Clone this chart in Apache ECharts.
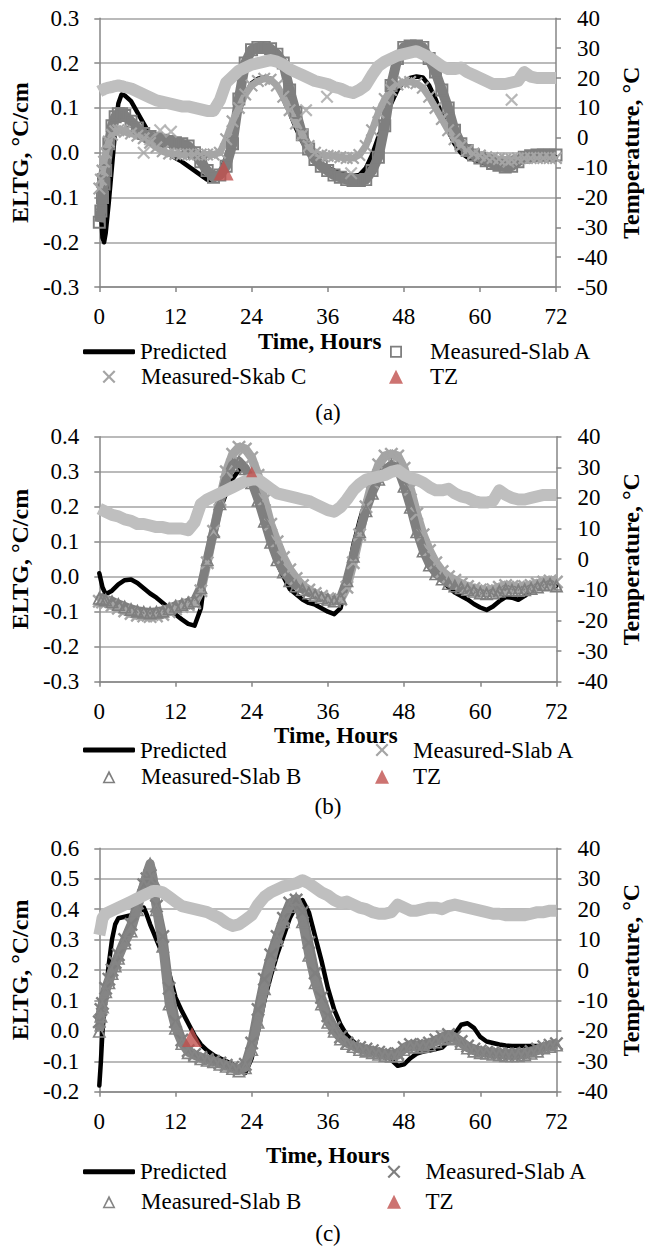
<!DOCTYPE html>
<html><head><meta charset="utf-8">
<script src="https://cdn.jsdelivr.net/npm/echarts/dist/echarts.min.js"></script>
<style>html,body{margin:0;padding:0;background:#fff}#c{width:651px;height:1247px}</style>
</head><body><div id="c"></div>
<script>
// ---------- Panel (a) ----------
const hoursA = [0,0.25,0.5,0.75,1,1.5,2,2.5,3,3.5,4,5,6,7,8,9,10,11,12,13,14,15,16,17,18,19,20,21,22,23,24,25,26,27,28,29,30,31,32,33,34,35,36,37,38,39,40,41,42,43,44,45,46,47,48,49,50,51,52,53,54,55,56,57,58,59,60,61,62,63,64,65,66,67,68,69,70,71,72];
const predA = [-0.05,-0.13,-0.19,-0.2,-0.18,-0.11,-0.03,0.05,0.11,0.13,0.128,0.115,0.09,0.065,0.04,0.02,0.008,-0.003,-0.012,-0.02,-0.03,-0.04,-0.05,-0.06,-0.062,-0.045,-0.01,0.04,0.09,0.13,0.155,0.165,0.168,0.165,0.15,0.12,0.09,0.055,0.025,0.0,-0.015,-0.025,-0.033,-0.04,-0.046,-0.05,-0.052,-0.05,-0.035,-0.005,0.035,0.075,0.11,0.14,0.158,0.167,0.17,0.168,0.15,0.12,0.085,0.05,0.02,0.0,-0.01,-0.015,-0.02,-0.025,-0.028,-0.03,-0.03,-0.025,-0.018,-0.012,-0.01,-0.01,-0.01,-0.01,-0.01];
const slabA_A = [-0.155,-0.13,-0.1,-0.07,-0.04,0.02,0.06,0.08,0.087,0.087,0.083,0.07,0.055,0.043,0.036,0.031,0.028,0.025,0.022,0.02,0.015,0.0,-0.02,-0.04,-0.055,-0.05,-0.03,0.02,0.12,0.2,0.23,0.235,0.235,0.232,0.22,0.2,0.14,0.09,0.04,0.008,-0.015,-0.03,-0.04,-0.05,-0.055,-0.06,-0.062,-0.062,-0.06,-0.04,-0.01,0.06,0.15,0.21,0.235,0.238,0.238,0.235,0.21,0.18,0.14,0.1,0.05,0.02,0.005,-0.005,-0.012,-0.018,-0.024,-0.028,-0.032,-0.03,-0.02,-0.01,-0.007,-0.005,-0.005,-0.005,-0.005];
const skabC_A = [-0.08,-0.06,-0.04,-0.02,0.0,0.025,0.04,0.048,0.05,0.05,0.047,0.043,0.038,0.032,0.022,0.012,0.003,-0.002,-0.003,-0.004,-0.004,-0.004,-0.004,-0.004,-0.004,0.0,0.03,0.07,0.1,0.13,0.15,0.16,0.165,0.163,0.15,0.125,0.095,0.065,0.04,0.015,0.0,-0.005,-0.007,-0.008,-0.01,-0.012,-0.012,-0.005,0.015,0.05,0.09,0.12,0.14,0.152,0.157,0.158,0.155,0.145,0.125,0.1,0.075,0.05,0.03,0.015,0.005,-0.002,-0.006,-0.01,-0.012,-0.014,-0.015,-0.015,-0.013,-0.012,-0.012,-0.012,-0.012,-0.012,-0.012];
const skabCOutT = [7,8,9.6,11.3,32.6,35.9,39.7,64.5,65];
const skabCOutV = [0.0,0.03,0.05,0.047,0.095,0.125,-0.046,-0.02,0.118];
const tempA = [15.5,15.8,16,16.3,16.5,16.8,17,17.3,17.5,17.3,17,16.5,15.5,14.5,13.5,12.5,12,11.5,11,10.5,10.5,10,9.5,9,9,12.5,18.5,20.5,22.5,23.5,24.5,25,25.5,26,25.5,24.5,23,22,21,20,19,18.5,18,17,16.5,15.5,15,16,17.5,21,24,25.5,26.5,27.5,28,28.5,29,28,27,25.5,24,23,23,23.5,22,21,20,19,18,18,18,18.5,19,22,20.5,20,20,20,20];
const tzA = [[19.6,-0.04]];

// ---------- Panel (b) ----------
const hoursB = [0,0.5,1,2,3,4,5,6,7,8,9,10,11,12,13,14,15,16,17,18,19,20,21,22,23,24,25,26,27,28,29,30,31,32,33,34,35,36,37,38,39,40,41,42,43,44,45,46,47,48,49,50,51,52,53,54,55,56,57,58,59,60,61,62,63,64,65,66,67,68,69,70,71,72];
const predB = [0.01,-0.03,-0.05,-0.04,-0.022,-0.01,-0.008,-0.018,-0.033,-0.048,-0.06,-0.075,-0.09,-0.108,-0.122,-0.135,-0.14,-0.09,0.05,0.12,0.19,0.24,0.28,0.305,0.31,0.28,0.22,0.15,0.09,0.04,0.0,-0.035,-0.05,-0.065,-0.075,-0.08,-0.09,-0.1,-0.107,-0.09,-0.01,0.09,0.16,0.22,0.26,0.29,0.31,0.32,0.3,0.25,0.2,0.14,0.085,0.04,0.01,-0.01,-0.03,-0.045,-0.055,-0.065,-0.078,-0.088,-0.095,-0.085,-0.07,-0.058,-0.06,-0.066,-0.055,-0.04,-0.028,-0.02,-0.022,-0.025];
const slabA_B = [-0.07,-0.072,-0.075,-0.082,-0.09,-0.098,-0.105,-0.11,-0.112,-0.114,-0.112,-0.108,-0.1,-0.092,-0.085,-0.08,-0.075,-0.04,0.04,0.13,0.22,0.3,0.35,0.37,0.365,0.34,0.29,0.22,0.15,0.1,0.055,0.02,-0.005,-0.025,-0.038,-0.048,-0.056,-0.063,-0.068,-0.065,-0.03,0.04,0.12,0.2,0.27,0.32,0.345,0.35,0.345,0.31,0.25,0.18,0.12,0.075,0.04,0.015,0.0,-0.01,-0.02,-0.028,-0.034,-0.038,-0.04,-0.037,-0.03,-0.025,-0.028,-0.03,-0.028,-0.025,-0.02,-0.015,-0.012,-0.015];
const slabB_B = [-0.06,-0.062,-0.065,-0.07,-0.078,-0.085,-0.092,-0.097,-0.1,-0.102,-0.1,-0.097,-0.09,-0.083,-0.078,-0.073,-0.068,-0.03,0.05,0.13,0.21,0.28,0.32,0.33,0.31,0.27,0.22,0.16,0.1,0.05,0.015,-0.01,-0.025,-0.035,-0.045,-0.052,-0.058,-0.063,-0.068,-0.06,-0.01,0.06,0.13,0.19,0.24,0.28,0.305,0.32,0.31,0.26,0.2,0.13,0.075,0.035,0.01,-0.005,-0.018,-0.025,-0.03,-0.035,-0.04,-0.045,-0.047,-0.045,-0.04,-0.035,-0.037,-0.038,-0.036,-0.032,-0.028,-0.022,-0.02,-0.025];
const tempB = [16.5,16,15.5,14.5,14,13,12.5,11.5,11.5,11,10.5,10.5,10,10,10,9.5,12,18,19.5,20.5,21.5,22.5,23.5,24.5,25.5,26,26,24.5,23,21.5,21,20.5,20,19.5,19,18,17,16,15.5,17,19.5,22.5,24.5,26,26.5,27,27.5,28.5,29,27.5,26.5,26,25,23.5,22.5,22.5,23,21.5,20.5,20,19,18.5,18.5,19,22.5,21,20,19.5,19.5,20,20.5,21,21,21];
const tzB = [[24,0.3]];

// ---------- Panel (c) ----------
const hoursC = [0,0.25,0.5,1,1.5,2,2.5,3,4,5,6,7,7.5,8,8.5,9,10,11,12,13,14,15,16,17,18,19,20,21,22,23,24,25,26,27,28,29,30,31,32,33,34,35,36,37,38,39,40,41,42,43,44,45,46,47,48,49,50,51,52,53,54,55,56,57,58,59,60,61,62,63,64,65,66,67,68,69,70,71,72];
const predC = [-0.18,-0.1,0.0,0.12,0.22,0.3,0.35,0.37,0.375,0.38,0.39,0.405,0.38,0.35,0.325,0.3,0.25,0.19,0.11,0.065,0.025,-0.015,-0.045,-0.065,-0.08,-0.09,-0.1,-0.11,-0.125,-0.138,-0.09,0.0,0.1,0.18,0.25,0.31,0.37,0.41,0.43,0.39,0.31,0.23,0.14,0.07,0.02,-0.015,-0.035,-0.05,-0.06,-0.065,-0.07,-0.08,-0.095,-0.115,-0.11,-0.09,-0.075,-0.068,-0.065,-0.06,-0.055,-0.035,-0.01,0.02,0.025,0.01,-0.02,-0.035,-0.04,-0.045,-0.048,-0.05,-0.05,-0.05,-0.05,-0.05,-0.05,-0.045,-0.04];
const slabA_C = [0.03,0.07,0.09,0.14,0.17,0.2,0.225,0.25,0.3,0.35,0.42,0.48,0.5,0.51,0.46,0.41,0.31,0.14,0.03,-0.03,-0.065,-0.078,-0.088,-0.094,-0.1,-0.106,-0.113,-0.12,-0.127,-0.11,-0.04,0.07,0.17,0.25,0.31,0.37,0.42,0.43,0.39,0.29,0.19,0.11,0.05,0.01,-0.02,-0.04,-0.05,-0.055,-0.06,-0.065,-0.07,-0.075,-0.078,-0.075,-0.055,-0.045,-0.048,-0.045,-0.04,-0.03,-0.02,-0.012,-0.02,-0.035,-0.05,-0.06,-0.066,-0.07,-0.072,-0.075,-0.076,-0.077,-0.076,-0.074,-0.068,-0.06,-0.052,-0.047,-0.042];
const slabB_C = [0.0,0.05,0.08,0.13,0.16,0.19,0.215,0.24,0.29,0.33,0.4,0.48,0.52,0.55,0.5,0.4,0.28,0.09,0.01,-0.04,-0.07,-0.08,-0.09,-0.095,-0.1,-0.108,-0.115,-0.122,-0.13,-0.12,-0.06,0.03,0.14,0.22,0.3,0.36,0.41,0.435,0.36,0.25,0.16,0.09,0.03,0.0,-0.025,-0.04,-0.05,-0.06,-0.065,-0.07,-0.075,-0.08,-0.082,-0.08,-0.06,-0.05,-0.052,-0.05,-0.045,-0.035,-0.025,-0.02,-0.025,-0.04,-0.055,-0.065,-0.07,-0.072,-0.075,-0.078,-0.08,-0.08,-0.08,-0.078,-0.072,-0.065,-0.055,-0.05,-0.045];
const tempC = [11.5,14,17,18.5,19,19.5,20,20.5,21.5,22.5,23.5,24.5,25,25.5,26,26,25.5,24,22.5,21,20.5,20,19.5,19,18,17,15.5,14.5,15,16.5,18,21.5,24,25.5,26.5,27.5,28,28.5,29.5,28.5,27,25.5,24.5,23,22,22.5,21.5,20.5,20,19,18.5,18.5,19,21.5,20.5,19.5,19.5,20,20.5,20.5,20,21,21.5,21,20.5,20,19.5,19,18.5,18.5,18,18,18,18,18.5,19,19,19.5,19.5];
const tzC = [[14.6,-0.02]];

const xTicks = [0,12,24,36,48,60,72];

// ---------- styling helpers ----------
const FONT = 'Liberation Serif';
const AX = '#868686', GRIDC = '#a3a3a3';
const DARK = '#7f7f7f', LIGHT = '#a5a5a5', TEMP = '#bfbfbf', RED = '#c0504d';
const SQUARE = 'path://M0,0L10,0L10,10L0,10ZM1.5,1.5L1.5,8.5L8.5,8.5L8.5,1.5Z';
const CROSS = 'path://M0,1.2L1.2,0L5,3.8L8.8,0L10,1.2L6.2,5L10,8.8L8.8,10L5,6.2L1.2,10L0,8.8L3.8,5Z';
const OTRI = 'path://M5,0L10,10L0,10ZM5,3.2L1.9,8.9L8.1,8.9Z';
const FTRI = 'path://M5,0L10,10L0,10Z';

function zip(t, v) { return t.map((x, i) => [x, v[i]]); }
const fmt1 = v => (Math.abs(v) < 1e-9 ? '0.0' : v.toFixed(1));

const grids = [
  {left: 95.5, top: 18.3, width: 473.2, height: 268.8},
  {left: 87.2, top: 436.7, width: 489.8, height: 245},
  {left: 89.2, top: 848.3, width: 489.8, height: 243.4}
];
const leftRange = [[-0.3, 0.3], [-0.3, 0.4], [-0.2, 0.6]];
const rightRange = [[-50, 40], [-40, 40], [-40, 40]];
const leftGap = [58, 56, 56], rightGap = [63, 57, 55];
const timeGap = [43, 40, 52], timePad = [[0,16,0,0],[0,0,0,16],[0,0,0,0]];

const xAxes = [], yAxes = [];
grids.forEach((g, i) => {
  xAxes.push({
    type: 'value', gridIndex: i, min: 0, max: 72, interval: 12,
    name: 'Time, Hours', nameLocation: 'middle', nameGap: timeGap[i],
    nameTextStyle: {fontFamily: FONT, fontSize: 23, fontWeight: 'bold', color: '#000', padding: timePad[i]},
    axisLine: {show: true, onZero: false, lineStyle: {color: AX, width: 1.5}},
    axisTick: {show: true, length: 5, lineStyle: {color: AX, width: 1.5}},
    axisLabel: {margin: 18, fontFamily: FONT, fontSize: 23, color: '#000',
      formatter: v => (xTicks.indexOf(v) >= 0 ? String(v) : '')},
    splitLine: {show: false}
  });
  yAxes.push({
    type: 'value', gridIndex: i, position: 'left', min: leftRange[i][0], max: leftRange[i][1], interval: 0.1,
    name: 'ELTG, °C/cm', nameLocation: 'middle', nameRotate: 90, nameGap: leftGap[i],
    nameTextStyle: {fontFamily: FONT, fontSize: 24, fontWeight: 'bold', color: '#000'},
    axisLine: {show: true, lineStyle: {color: AX, width: 1.5}},
    axisTick: {show: true, length: 5, lineStyle: {color: AX, width: 1.5}},
    axisLabel: {margin: 20, fontFamily: FONT, fontSize: 23, color: '#000', formatter: fmt1},
    splitLine: {show: true, lineStyle: {color: GRIDC, width: 1.5}}
  });
  yAxes.push({
    type: 'value', gridIndex: i, position: 'right', min: rightRange[i][0], max: rightRange[i][1], interval: 10,
    name: 'Temperature, °C', nameLocation: 'middle', nameRotate: 90, nameGap: rightGap[i],
    nameTextStyle: {fontFamily: FONT, fontSize: 24, fontWeight: 'bold', color: '#000'},
    axisLine: {show: true, lineStyle: {color: AX, width: 1.5}},
    axisTick: {show: true, length: 5, lineStyle: {color: AX, width: 1.5}},
    axisLabel: {margin: 21, fontFamily: FONT, fontSize: 23, color: '#000'},
    splitLine: {show: false}
  });
});

function pred(p, gi, t, v) {
  return {name: p + '|Predicted', type: 'line', xAxisIndex: gi, yAxisIndex: gi * 2, data: zip(t, v),
    symbol: 'none', z: 2, lineStyle: {color: '#000', width: 4.5, cap: 'round', join: 'round'}, itemStyle: {color: '#000'}};
}
function meas(name, gi, t, v, sym, color, size, lw) {
  return {name: name, type: 'line', xAxisIndex: gi, yAxisIndex: gi * 2, data: zip(t, v),
    symbol: sym, symbolSize: size, showSymbol: true, showAllSymbol: true, z: 3,
    itemStyle: {color: color, borderWidth: 0}, lineStyle: {color: color, width: lw, join: 'round'}};
}
function temp(p, gi, t, v) {
  return {name: p + '|Temperature', type: 'line', xAxisIndex: gi, yAxisIndex: gi * 2 + 1, data: zip(t, v),
    symbol: 'none', z: 4, lineStyle: {color: TEMP, width: 12, join: 'round'}, itemStyle: {color: TEMP}};
}
function tz(p, gi, d, size) {
  return {name: p + '|TZ', type: 'scatter', xAxisIndex: gi, yAxisIndex: gi * 2, data: d,
    symbol: FTRI, symbolSize: size, z: 5, itemStyle: {color: RED}};
}

const series = [
  pred('a', 0, hoursA, predA),
  meas('a|Measured-Slab A', 0, hoursA, slabA_A, SQUARE, DARK, 13, 10),
  meas('a|Measured-Skab C', 0, hoursA, skabC_A, CROSS, LIGHT, 13, 7),
  {name: 'a|Measured-Skab C', type: 'scatter', xAxisIndex: 0, yAxisIndex: 0, data: zip(skabCOutT, skabCOutV),
    symbol: CROSS, symbolSize: 13, z: 3, itemStyle: {color: LIGHT}},
  temp('a', 0, hoursA, tempA),
  tz('a', 0, tzA, 20),

  pred('b', 1, hoursB, predB),
  meas('b|Measured-Slab A', 1, hoursB, slabA_B, CROSS, LIGHT, 14, 9),
  meas('b|Measured-Slab B', 1, hoursB, slabB_B, OTRI, DARK, 14, 9),
  temp('b', 1, hoursB, tempB),
  tz('b', 1, tzB, 11),

  pred('c', 2, hoursC, predC),
  meas('c|Measured-Slab A', 2, hoursC, slabA_C, CROSS, DARK, 14, 9),
  meas('c|Measured-Slab B', 2, hoursC, slabB_C, OTRI, '#858585', 14, 9),
  temp('c', 2, hoursC, tempC),
  tz('c', 2, tzC, 20)
];

// legend: one component per entry; centre = icon centre, textX = where the label starts
function legLine(name, left, rowY) {
  return {data: [{name: name, icon: 'roundRect'}], left: left, top: rowY - 12, itemWidth: 52, itemHeight: 5,
    padding: 0, itemGap: 0, selectedMode: false, formatter: n => n.split('|')[1],
    itemStyle: {borderWidth: 0},
    textStyle: {fontFamily: FONT, fontSize: 23, color: '#000', lineHeight: 24}};
}
function legSym(name, icon, centre, textX, rowY, size) {
  const left = centre - size / 2;
  const pad = Math.max(0, textX - (left + size + 5));
  return {data: [{name: name, icon: icon}], left: left, top: rowY - 12, itemWidth: size, itemHeight: size,
    padding: 0, itemGap: 0, selectedMode: false, formatter: n => n.split('|')[1],
    itemStyle: {borderWidth: 0},
    textStyle: {fontFamily: FONT, fontSize: 23, color: '#000', lineHeight: 24, padding: [0, 0, 0, pad]}};
}
const legends = [
  legLine('a|Predicted', 83, 351.7),
  legSym('a|Measured-Slab A', SQUARE, 396, 430, 351.7, 12),
  legSym('a|Measured-Skab C', CROSS, 109, 141, 376.7, 13),
  legSym('a|TZ', FTRI, 396, 430, 376.7, 14),

  legLine('b|Predicted', 83, 750),
  legSym('b|Measured-Slab A', CROSS, 382, 413, 750, 13),
  legSym('b|Measured-Slab B', OTRI, 109, 141, 776.7, 13),
  legSym('b|TZ', FTRI, 382, 413, 776.7, 14),

  legLine('c|Predicted', 83, 1171.7),
  legSym('c|Measured-Slab A', CROSS, 394, 425.5, 1171.7, 13),
  legSym('c|Measured-Slab B', OTRI, 109, 141, 1201.7, 13),
  legSym('c|TZ', FTRI, 394, 425.5, 1201.7, 14)
];

const panelLabels = ['(a)', '(b)', '(c)'];
const panelLabelY = [412, 806.7, 1233];
const graphic = panelLabels.map((s, i) => ({
  type: 'text', x: 328, y: panelLabelY[i],
  style: {text: s, fontFamily: FONT, fontSize: 23, fill: '#000', align: 'center', verticalAlign: 'middle'}
}));

const chart = echarts.init(document.getElementById('c'), null, {renderer: 'svg'});
chart.setOption({
  animation: false,
  backgroundColor: '#fff',
  textStyle: {fontFamily: FONT},
  grid: grids,
  xAxis: xAxes,
  yAxis: yAxes,
  legend: legends,
  graphic: graphic,
  series: series
});
</script>
</body></html>
